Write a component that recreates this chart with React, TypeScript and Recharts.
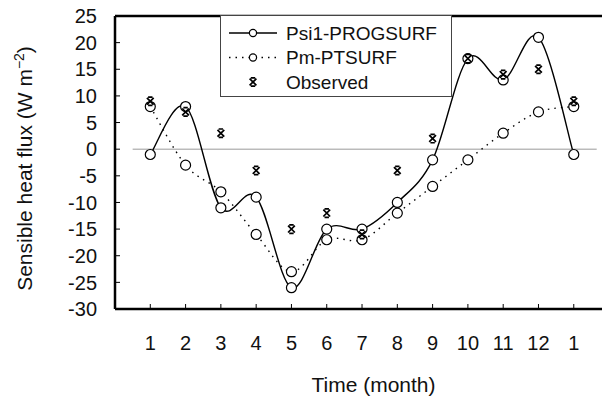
import React from 'react';
import { LineChart, Line, XAxis, YAxis, ReferenceLine, Legend } from 'recharts';

const months = ['1', '2', '3', '4', '5', '6', '7', '8', '9', '10', '11', '12', '1'];
const psi1Progsurf = [-1, 8, -11, -9, -26, -15, -15, -10, -2, 17, 13, 21, -1];
const pmPtsurf = [8, -3, -8, -16, -23, -17, -17, -12, -7, -2, 3, 7, 8];
const observed = [9, 7, 3, -4, -15, -12, -16, -4, 2, 17, 14, 15, 9];
const yTicks = [-30, -25, -20, -15, -10, -5, 0, 5, 10, 15, 20, 25];

const data = months.map((m, i) => ({
  i,
  month: m,
  psi1: psi1Progsurf[i],
  pm: pmPtsurf[i],
  obs: observed[i],
}));

const FONT = '"Liberation Sans", Arial, sans-serif';

// Excel-like smoothed line (Catmull-Rom as cubic Bezier)
function excelCurve(context: any) {
  let pts: number[][] = [];
  return {
    areaStart() {},
    areaEnd() {},
    lineStart() {
      pts = [];
    },
    lineEnd() {
      if (!pts.length) return;
      context.moveTo(pts[0][0], pts[0][1]);
      for (let k = 0; k < pts.length - 1; k++) {
        const p0 = pts[Math.max(k - 1, 0)];
        const p1 = pts[k];
        const p2 = pts[k + 1];
        const p3 = pts[Math.min(k + 2, pts.length - 1)];
        context.bezierCurveTo(
          p1[0] + (p2[0] - p0[0]) / 6,
          p1[1] + (p2[1] - p0[1]) / 6,
          p2[0] - (p3[0] - p1[0]) / 6,
          p2[1] - (p3[1] - p1[1]) / 6,
          p2[0],
          p2[1]
        );
      }
    },
    point(x: number, y: number) {
      pts.push([+x, +y]);
    },
  };
}

const CircleDot = (props: any) => {
  const { cx, cy } = props;
  if (cx == null || cy == null) return null;
  return <circle cx={cx} cy={cy} r={5} fill="#fff" stroke="#000" strokeWidth={1.2} />;
};

const StarDot = (props: any) => {
  const { cx, cy } = props;
  if (cx == null || cy == null) return null;
  const d = `M${cx - 3.4},${cy - 3.4}L${cx + 3.4},${cy + 3.4}M${cx + 3.4},${cy - 3.4}L${cx - 3.4},${cy + 3.4}M${cx - 2.2},${cy - 4.2}L${cx + 2.2},${cy - 4.2}M${cx - 2.2},${cy + 4.2}L${cx + 2.2},${cy + 4.2}`;
  return <path d={d} stroke="#000" strokeWidth={1.7} fill="none" />;
};

const XTick = (props: any) => {
  const { x, y, payload } = props;
  return (
    <text x={x} y={y + 46} textAnchor="middle" fontFamily={FONT} fontSize={20} fill="#111">
      {months[payload.value]}
    </text>
  );
};

const YTick = (props: any) => {
  const { x, y, payload } = props;
  return (
    <text x={x} y={y} dy="0.36em" textAnchor="end" fontFamily={FONT} fontSize={20} fill="#111">
      {payload.value}
    </text>
  );
};

const XTitle = (props: any) => {
  const { viewBox } = props;
  return (
    <text x={viewBox.x + viewBox.width / 2 + 15} y={viewBox.y + 83} textAnchor="middle" fontFamily={FONT} fontSize={21} fill="#111">
      Time (month)
    </text>
  );
};

const YTitle = (props: any) => {
  const { viewBox } = props;
  const cx = viewBox.x - 23;
  const cy = viewBox.y + viewBox.height / 2 + 6;
  return (
    <text x={cx} y={cy} transform={`rotate(-90, ${cx}, ${cy})`} textAnchor="middle" fontFamily={FONT} fontSize={21} fill="#111">
      <tspan>Sensible heat flux (W m</tspan>
      <tspan dy={-8} fontSize={14}>−2</tspan>
      <tspan dy={8}>)</tspan>
    </text>
  );
};

const legendOrder = ['psi1', 'pm', 'obs'];
const legendStyles: Record<string, { dash?: string; kind: 'line' | 'star' }> = {
  psi1: { kind: 'line' },
  pm: { kind: 'line', dash: '1.5 5' },
  obs: { kind: 'star' },
};

const LegendBox = (props: any) => {
  const { payload } = props;
  const items = (payload || [])
    .filter((p: any) => legendStyles[p.dataKey])
    .sort((a: any, b: any) => legendOrder.indexOf(a.dataKey) - legendOrder.indexOf(b.dataKey));
  return (
    <svg width={232} height={82} style={{ display: 'block' }}>
      <rect x={0.5} y={0.5} width={231} height={81} fill="#fff" stroke="#444" strokeWidth={1} />
      {items.map((it: any, k: number) => {
        const st = legendStyles[it.dataKey];
        const cy = 18 + k * 24.5;
        return (
          <g key={it.dataKey}>
            {st.kind === 'line' ? (
              <g>
                <line x1={9} x2={57} y1={cy} y2={cy} stroke="#000" strokeWidth={1.3} strokeDasharray={st.dash} />
                <circle cx={33} cy={cy} r={3.6} fill="#fff" stroke="#000" strokeWidth={1.2} />
              </g>
            ) : (
              <StarDot cx={33} cy={cy} />
            )}
            <text x={66} y={cy} dy="0.36em" fontFamily={FONT} fontSize={19} fill="#111">
              {it.value}
            </text>
          </g>
        );
      })}
    </svg>
  );
};

export default function App() {
  return (
    <div style={{ position: 'absolute', left: 0, top: 0, width: 602, height: 400, background: '#fff' }}>
      <LineChart width={602} height={400} data={data} margin={{ top: 16, right: 0, bottom: 31, left: 55 }}>
        <XAxis
          dataKey="i"
          type="number"
          domain={[-1, 12.8]}
          ticks={[0, 1, 2, 3, 4, 5, 6, 7, 8, 9, 10, 11, 12]}
          allowDataOverflow
          height={60}
          tickSize={-5}
          tickMargin={0}
          tick={<XTick />}
          tickLine={{ stroke: '#000', strokeWidth: 1 }}
          axisLine={{ stroke: '#000', strokeWidth: 2.5 }}
          label={<XTitle />}
        />
        <YAxis
          type="number"
          domain={[-30, 25]}
          ticks={yTicks}
          allowDataOverflow
          width={60}
          tickSize={-5}
          tickMargin={23}
          tick={<YTick />}
          tickLine={{ stroke: '#000', strokeWidth: 1 }}
          axisLine={{ stroke: '#000', strokeWidth: 2.5 }}
          label={<YTitle />}
        />
        <ReferenceLine y={25} stroke="#000" strokeWidth={2.5} />
        <ReferenceLine
          segment={[{ x: -0.5, y: 0 }, { x: 12.65, y: 0 }]}
          stroke="#999"
          strokeWidth={1}
        />
        <Line
          dataKey="psi1"
          name="Psi1-PROGSURF"
          type={excelCurve as any}
          stroke="#000"
          strokeWidth={1.4}
          dot={<CircleDot />}
          activeDot={false}
          isAnimationActive={false}
        />
        <Line
          dataKey="pm"
          name="Pm-PTSURF"
          type={excelCurve as any}
          stroke="#000"
          strokeWidth={1.4}
          strokeDasharray="1.5 5"
          dot={<CircleDot />}
          activeDot={false}
          isAnimationActive={false}
        />
        <Line
          dataKey="obs"
          name="Observed"
          stroke="none"
          dot={<StarDot />}
          activeDot={false}
          isAnimationActive={false}
        />
        <Legend
          layout="vertical"
          align="center"
          verticalAlign="middle"
          content={<LegendBox />}
          wrapperStyle={{ position: 'absolute', left: 220, top: 15, width: 232, height: 82 }}
        />
      </LineChart>
    </div>
  );
}
